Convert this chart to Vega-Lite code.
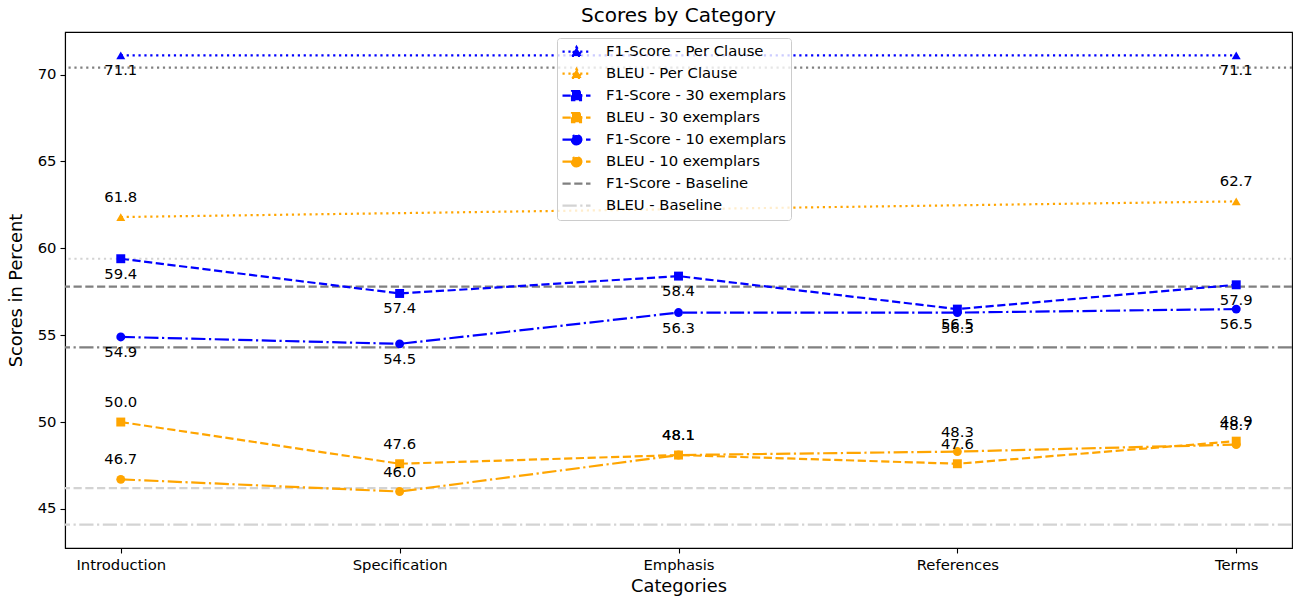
{
  "$schema": "https://vega.github.io/schema/vega-lite/v6.json",
  "width": 1227,
  "height": 516,
  "autosize": {"type": "none"},
  "padding": {"left": 65, "top": 32, "right": 5, "bottom": 48},
  "background": "white",
  "config": {
    "font": "DejaVu Sans",
    "view": {"stroke": "black", "strokeWidth": 1.1},
    "axis": {
      "grid": false,
      "labelFont": "DejaVu Sans",
      "labelFontSize": 14.8,
      "labelColor": "black",
      "tickColor": "black",
      "tickSize": 5,
      "tickWidth": 1.1,
      "domainColor": "black",
      "domainWidth": 1.1,
      "labelPadding": 4,
      "titleFont": "DejaVu Sans",
      "titleFontSize": 17.8,
      "titleFontWeight": "normal",
      "titleColor": "black"
    }
  },
  "title": {
    "text": "Scores by Category",
    "font": "DejaVu Sans",
    "fontSize": 20,
    "fontWeight": "normal",
    "color": "black",
    "anchor": "middle",
    "offset": 6
  },
  "datasets": {
    "scores": [
      {"category": "Introduction", "series": "F1-Score - Per Clause", "metric": "F1-Score", "value": 71.1},
      {"category": "Terms", "series": "F1-Score - Per Clause", "metric": "F1-Score", "value": 71.1},
      {"category": "Introduction", "series": "BLEU - Per Clause", "metric": "BLEU", "value": 61.8},
      {"category": "Terms", "series": "BLEU - Per Clause", "metric": "BLEU", "value": 62.7},
      {"category": "Introduction", "series": "F1-Score - 30 exemplars", "metric": "F1-Score", "value": 59.4},
      {"category": "Specification", "series": "F1-Score - 30 exemplars", "metric": "F1-Score", "value": 57.4},
      {"category": "Emphasis", "series": "F1-Score - 30 exemplars", "metric": "F1-Score", "value": 58.4},
      {"category": "References", "series": "F1-Score - 30 exemplars", "metric": "F1-Score", "value": 56.5},
      {"category": "Terms", "series": "F1-Score - 30 exemplars", "metric": "F1-Score", "value": 57.9},
      {"category": "Introduction", "series": "BLEU - 30 exemplars", "metric": "BLEU", "value": 50.0},
      {"category": "Specification", "series": "BLEU - 30 exemplars", "metric": "BLEU", "value": 47.6},
      {"category": "Emphasis", "series": "BLEU - 30 exemplars", "metric": "BLEU", "value": 48.1},
      {"category": "References", "series": "BLEU - 30 exemplars", "metric": "BLEU", "value": 47.6},
      {"category": "Terms", "series": "BLEU - 30 exemplars", "metric": "BLEU", "value": 48.9},
      {"category": "Introduction", "series": "F1-Score - 10 exemplars", "metric": "F1-Score", "value": 54.9},
      {"category": "Specification", "series": "F1-Score - 10 exemplars", "metric": "F1-Score", "value": 54.5},
      {"category": "Emphasis", "series": "F1-Score - 10 exemplars", "metric": "F1-Score", "value": 56.3},
      {"category": "References", "series": "F1-Score - 10 exemplars", "metric": "F1-Score", "value": 56.3},
      {"category": "Terms", "series": "F1-Score - 10 exemplars", "metric": "F1-Score", "value": 56.5},
      {"category": "Introduction", "series": "BLEU - 10 exemplars", "metric": "BLEU", "value": 46.7},
      {"category": "Specification", "series": "BLEU - 10 exemplars", "metric": "BLEU", "value": 46.0},
      {"category": "Emphasis", "series": "BLEU - 10 exemplars", "metric": "BLEU", "value": 48.1},
      {"category": "References", "series": "BLEU - 10 exemplars", "metric": "BLEU", "value": 48.3},
      {"category": "Terms", "series": "BLEU - 10 exemplars", "metric": "BLEU", "value": 48.7}
    ],
    "baselines": [
      {"series": "F1-Score - Baseline", "setting": "Per Clause", "value": 70.4},
      {"series": "BLEU - Baseline", "setting": "Per Clause", "value": 59.4},
      {"series": "F1-Score - Baseline", "setting": "30 exemplars", "value": 57.8},
      {"series": "BLEU - Baseline", "setting": "30 exemplars", "value": 46.2},
      {"series": "F1-Score - Baseline", "setting": "10 exemplars", "value": 54.3},
      {"series": "BLEU - Baseline", "setting": "10 exemplars", "value": 44.1}
    ]
  },
  "layer": [
    {
      "data": {"name": "baselines"},
      "transform": [{"filter": "datum.setting == 'Per Clause'"}],
      "mark": {"type": "rule", "strokeWidth": 2.2, "strokeDash": [2.2, 3.7]},
      "encoding": {
        "y": {"field": "value", "type": "quantitative", "scale": {"domain": [42.75, 72.45], "nice": false, "zero": false}},
        "color": {"field": "series", "type": "nominal"}
      }
    },
    {
      "data": {"name": "baselines"},
      "transform": [{"filter": "datum.setting == '30 exemplars'"}],
      "mark": {"type": "rule", "strokeWidth": 2.2, "strokeDash": [8.2, 3.55]},
      "encoding": {
        "y": {"field": "value", "type": "quantitative"},
        "color": {"field": "series", "type": "nominal"}
      }
    },
    {
      "data": {"name": "baselines"},
      "transform": [{"filter": "datum.setting == '10 exemplars'"}],
      "mark": {"type": "rule", "strokeWidth": 2.2, "strokeDash": [14.2, 3.55, 2.2, 3.55]},
      "encoding": {
        "y": {"field": "value", "type": "quantitative"},
        "color": {"field": "series", "type": "nominal"}
      }
    },
    {
      "data": {"name": "scores"},
      "mark": {"type": "line", "strokeWidth": 2.2},
      "encoding": {
        "x": {
          "field": "category",
          "type": "ordinal",
          "scale": {"type": "point", "domain": ["Introduction", "Specification", "Emphasis", "References", "Terms"], "padding": 0.2},
          "axis": {"title": "Categories", "labelAngle": 0, "titlePadding": 6}
        },
        "y": {
          "field": "value",
          "type": "quantitative",
          "axis": {"title": "Scores in Percent", "values": [45, 50, 55, 60, 65, 70], "titlePadding": 12}
        },
        "color": {
          "field": "series",
          "type": "nominal",
          "scale": {
            "domain": ["F1-Score - Per Clause", "BLEU - Per Clause", "F1-Score - 30 exemplars", "BLEU - 30 exemplars", "F1-Score - 10 exemplars", "BLEU - 10 exemplars", "F1-Score - Baseline", "BLEU - Baseline"],
            "range": ["#0000ff", "#ffa500", "#0000ff", "#ffa500", "#0000ff", "#ffa500", "#808080", "#d3d3d3"]
          },
          "legend": {
            "title": null,
            "orient": "none",
            "legendX": 492,
            "legendY": 6,
            "fillColor": "rgba(255,255,255,0.8)",
            "strokeColor": "#cccccc",
            "cornerRadius": 3,
            "padding": 4,
            "symbolSize": 784,
            "symbolStrokeWidth": 2.2,
            "symbolType": "M-1,0H1",
            "labelFont": "DejaVu Sans",
            "labelFontSize": 14.8,
            "labelColor": "black",
            "labelLimit": 400,
            "labelOffset": 14,
            "clipHeight": 19.4,
            "rowPadding": 2,
            "encode": {
              "symbols": {
                "update": {
                  "shape": {"signal": "indexof(datum.value, 'Per Clause') >= 0 ? 'M-1,0H1M0,-0.34L0.36,0.3L-0.36,0.3Z' : indexof(datum.value, '30 ex') >= 0 ? 'M-1,0H1M-0.32,-0.32H0.32V0.32H-0.32Z' : indexof(datum.value, '10 ex') >= 0 ? 'M-1,0H1M0.34,0A0.34,0.34,0,1,1,-0.34,0A0.34,0.34,0,1,1,0.34,0' : 'M-1,0H1'"},
                  "fill": {"scale": "color", "field": "value"},
                  "fillOpacity": {"value": 1},
                  "opacity": {"value": 1}
                }
              }
            }
          }
        },
        "strokeDash": {
          "field": "series",
          "type": "nominal",
          "scale": {
            "domain": ["F1-Score - Per Clause", "BLEU - Per Clause", "F1-Score - 30 exemplars", "BLEU - 30 exemplars", "F1-Score - 10 exemplars", "BLEU - 10 exemplars", "F1-Score - Baseline", "BLEU - Baseline"],
            "range": [[2.2, 3.7], [2.2, 3.7], [8.2, 3.55], [8.2, 3.55], [14.2, 3.55, 2.2, 3.55], [14.2, 3.55, 2.2, 3.55], [8.2, 3.55], [14.2, 3.55, 2.2, 3.55]]
          }
        }
      }
    },
    {
      "data": {"name": "scores"},
      "mark": {"type": "point", "filled": true, "opacity": 1, "size": 80},
      "encoding": {
        "x": {"field": "category", "type": "ordinal"},
        "y": {"field": "value", "type": "quantitative"},
        "color": {"field": "series", "type": "nominal"},
        "shape": {
          "field": "series",
          "type": "nominal",
          "scale": {
            "domain": ["F1-Score - Per Clause", "BLEU - Per Clause", "F1-Score - 30 exemplars", "BLEU - 30 exemplars", "F1-Score - 10 exemplars", "BLEU - 10 exemplars"],
            "range": ["triangle-up", "triangle-up", "square", "square", "circle", "circle"]
          },
          "legend": null
        }
      }
    },
    {
      "data": {"name": "scores"},
      "transform": [{"filter": "datum.metric == 'F1-Score'"}],
      "mark": {"type": "text", "font": "DejaVu Sans", "fontSize": 14.8, "color": "black", "align": "center", "baseline": "middle", "dy": 16},
      "encoding": {
        "x": {"field": "category", "type": "ordinal"},
        "y": {"field": "value", "type": "quantitative"},
        "text": {"field": "value", "type": "quantitative", "format": ".1f"}
      }
    },
    {
      "data": {"name": "scores"},
      "transform": [{"filter": "datum.metric == 'BLEU'"}],
      "mark": {"type": "text", "font": "DejaVu Sans", "fontSize": 14.8, "color": "black", "align": "center", "baseline": "middle", "dy": -19},
      "encoding": {
        "x": {"field": "category", "type": "ordinal"},
        "y": {"field": "value", "type": "quantitative"},
        "text": {"field": "value", "type": "quantitative", "format": ".1f"}
      }
    }
  ]
}
